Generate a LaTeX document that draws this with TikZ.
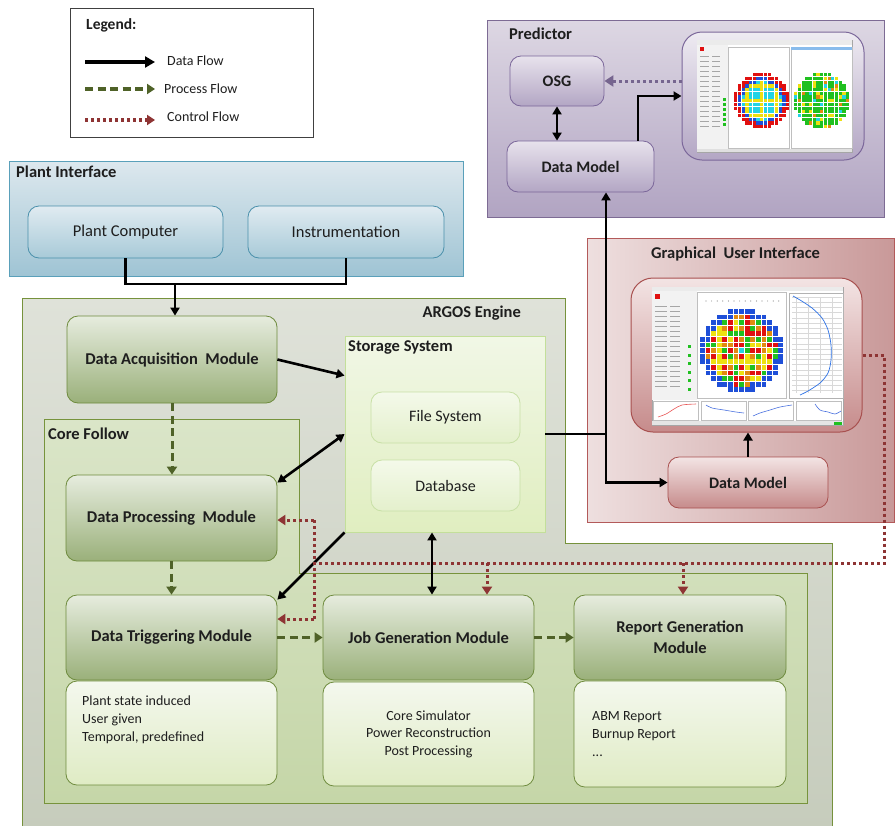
\documentclass[tikz,border=0pt]{standalone}
\usepackage{fontspec}
\setmainfont{Carlito}
\usetikzlibrary{arrows.meta}

\definecolor{txt}{HTML}{1E1E1E}
\definecolor{piB}{HTML}{5AA0BA}\definecolor{piT}{HTML}{DDE8EE}\definecolor{piBot}{HTML}{9FC4D4}
\definecolor{pinB}{HTML}{4A90AB}\definecolor{pinT}{HTML}{E0EBF1}\definecolor{pinBot}{HTML}{A8CAD8}
\definecolor{prB}{HTML}{7D6B94}\definecolor{prT}{HTML}{DDD7E3}\definecolor{prBot}{HTML}{B1A4C2}
\definecolor{prnB}{HTML}{7B679A}\definecolor{prnT}{HTML}{E7E2EC}\definecolor{prnBot}{HTML}{B3A6C4}
\definecolor{guB}{HTML}{B35A5A}\definecolor{guL}{HTML}{EEDFDF}\definecolor{guR}{HTML}{C99999}
\definecolor{gunB}{HTML}{A8504F}\definecolor{gunT}{HTML}{F3E4E4}\definecolor{gunBot}{HTML}{C68B8B}
\definecolor{arB}{HTML}{76923C}\definecolor{arT}{HTML}{DFE2D9}\definecolor{arBot}{HTML}{C6CCBC}
\definecolor{cfB}{HTML}{77933C}\definecolor{cfT}{HTML}{DAE5C8}\definecolor{cfBot}{HTML}{C5D6A8}
\definecolor{moB}{HTML}{6E8B3D}\definecolor{moT}{HTML}{E6ECDE}\definecolor{moBot}{HTML}{9AB07A}
\definecolor{tbT}{HTML}{F4F8EE}\definecolor{tbBot}{HTML}{DFEBC4}
\definecolor{stB}{HTML}{C3DF9A}\definecolor{stT}{HTML}{F1F7E6}\definecolor{stBot}{HTML}{E0EEC0}
\definecolor{fsB}{HTML}{C8E0A6}\definecolor{fsT}{HTML}{F4F9EA}\definecolor{fsBot}{HTML}{E4F0CC}
\definecolor{procC}{HTML}{4F6228}
\definecolor{ctrlC}{HTML}{8E3434}
\definecolor{purC}{HTML}{76658F}
\definecolor{mapc0}{HTML}{E01010}
\definecolor{mapc1}{HTML}{1E4FD8}
\definecolor{mapc2}{HTML}{22D3E6}
\definecolor{mapc3}{HTML}{EDE010}
\definecolor{mapc4}{HTML}{20C020}
\definecolor{mapc5}{HTML}{E08A10}
\definecolor{mapc6}{HTML}{3A8FE0}

\newcommand\coremap[4]{%
 \foreach \i in {0,...,14}{%
  \foreach \j in {0,...,14}{%
   \pgfmathsetmacro\rr{sqrt((\i-7)*(\i-7)+(\j-7)*(\j-7))}%
   \pgfmathtruncatemacro\inside{\rr<7.3 ? 1 : 0}%
   \ifnum\inside=1
     \pgfmathtruncatemacro\hh{mod(\i*7+\j*11+\i*\j*5,13)}%
     \ifcase#4
       \pgfmathtruncatemacro\cc{\rr>6.1 ? 0 : (\rr>5.1 ? 1 : ((mod(\i,4)==3 || mod(\j,4)==3) ? 3 : 2))}%
     \or
       \pgfmathtruncatemacro\cc{\hh==0 ? 3 : (\hh==1 ? 2 : (\hh==2 ? 5 : (\hh==3 ? 3 : 4)))}%
     \or
       \pgfmathtruncatemacro\cc{(\i==7 && \j==7) ? 2 : (\rr>6.3 ? 1 : (\hh<4 ? 0 : (\hh<7 ? 5 : (\hh<10 ? 3 : 4))))}%
     \fi
     \fill[mapc\cc] ({#1+(\i-7.5)*#3},{#2+(\j-7.5)*#3}) rectangle ++({#3*0.86},{#3*0.86});
   \fi
  }}}

\begin{document}
\begin{tikzpicture}[x=1pt,y=-1pt,
  every node/.style={text=txt},
  box/.style={rounded corners=11pt, line width=0.8pt, inner sep=2pt, align=center},
  modbox/.style={box, draw=moB, top color=moT, bottom color=moBot, font=\bfseries\fontsize{16.5}{21}\selectfont},
  txtbox/.style={box, draw=moB, top color=tbT, bottom color=tbBot, font=\fontsize{14}{17.5}\selectfont},
  pibox/.style={box, draw=pinB, top color=pinT, bottom color=pinBot, font=\fontsize{16.5}{20}\selectfont},
  prbox/.style={box, draw=prnB, top color=prnT, bottom color=prnBot, font=\bfseries\fontsize{16}{20}\selectfont},
  gubox/.style={box, draw=gunB, top color=gunT, bottom color=gunBot, font=\bfseries\fontsize{16}{20}\selectfont},
  fsbox/.style={box, draw=fsB, top color=fsT, bottom color=fsBot, font=\fontsize{16}{20}\selectfont},
  title/.style={font=\bfseries\fontsize{16.5}{20}\selectfont, inner sep=0pt},
  legtxt/.style={font=\fontsize{14}{16}\selectfont, anchor=west, inner sep=0pt},
  data/.style={line width=2.6pt, black},
  dataarrow/.style={data, -{Triangle[length=8pt,width=9pt]}},
  dbl/.style={data, {Triangle[length=8pt,width=9pt]}-{Triangle[length=8pt,width=9pt]}},
  proc/.style={line width=3pt, procC, dash pattern=on 8pt off 4.5pt, -{Triangle[length=8pt,width=10pt]}},
  ctrl/.style={line width=3pt, ctrlC, dash pattern=on 3pt off 3pt},
  ctrlarrow/.style={ctrl, -{Triangle[length=8pt,width=10pt]}},
  purarrow/.style={line width=3pt, purC, dash pattern=on 3pt off 3pt, -{Triangle[length=9pt,width=11pt]}}
]
\useasboundingbox[fill=white] (0,0) rectangle (896,825);

% ---------------- Legend ----------------
\node[draw=black!75, line width=0.9pt, fill=white, minimum width=243pt, minimum height=129pt, inner sep=0pt] (legend) at (191.5,72.5) {};
\node[title, anchor=west, font=\bfseries\fontsize{15.5}{18}\selectfont] (legtitle) at (86,25) {Legend:};
\coordinate (la1) at (85,62); \coordinate (lb1) at (155,62);
\coordinate (la2) at (85,89); \coordinate (lb2) at (155,89);
\coordinate (la3) at (85,120); \coordinate (lb3) at (155,120);
\draw[line width=3.5pt, -{Triangle[length=10pt,width=11pt]}] (la1) -- (lb1);
\draw[proc, line width=3.5pt] (la2) -- (lb2);
\draw[ctrlarrow, line width=3.5pt] (la3) -- (lb3);
\node[legtxt] (lt1) at (167,61) {Data Flow};
\node[legtxt] (lt2) at (164,89) {Process Flow};
\node[legtxt] (lt3) at (167,117) {Control Flow};

% ---------------- Plant Interface ----------------
\node[draw=piB, line width=0.9pt, top color=piT, bottom color=piBot, minimum width=454pt, minimum height=115pt, inner sep=0pt] (plant) at (236,218.5) {};
\node[title, anchor=west] (planttitle) at (16,172) {Plant Interface};
\node[pibox, minimum width=195pt, minimum height=52pt] (pc) at (125.5,232) {Plant Computer};
\node[pibox, minimum width=196pt, minimum height=52pt] (instr) at (346,232) {Instrumentation};

% ---------------- Predictor ----------------
\node[draw=prB, line width=0.9pt, top color=prT, bottom color=prBot, minimum width=397pt, minimum height=197pt, inner sep=0pt] (pred) at (685.5,118.5) {};
\node[title, anchor=west] (predtitle) at (509,34) {Predictor};
\node[prbox, minimum width=94pt, minimum height=50pt] (osg) at (557,81) {OSG};
\node[prbox, minimum width=147pt, minimum height=51pt] (pdm) at (580.5,166.5) {Data Model};
\node[draw=prnB, line width=1pt, rounded corners=20pt, top color=prnT!70!white, bottom color=prnBot, minimum width=182pt, minimum height=128pt, inner sep=0pt] (ppanel) at (773,96) {};
% predictor screenshot
\fill[white, draw=black!35, line width=0.4pt] (697,40) rectangle (852,152);
\fill[black!8] (697,40) rectangle (852,45);
\fill[black!5] (697,45) rectangle (728,149);
\fill[black!12] (697,149) rectangle (852,152);
\draw[black!25, line width=0.4pt] (728,47) rectangle (789,148) (791,47) rectangle (852,148);
\fill[mapc6!60] (791,47) rectangle (852,50);
\fill[mapc0] (700,47) rectangle (704,51);
\foreach \k in {0,...,14}{\draw[black!35, line width=0.7pt] (700,{56+\k*5}) -- ++(9,0) (712,{56+\k*5}) -- ++(8,0);}
\foreach \k in {0,...,5}{\fill[mapc4] (723,{98+\k*5}) rectangle ++(2.5,2.5);}
\coremap{762}{101}{3.7}{0}
\coremap{822}{101}{3.7}{1}

% ---------------- GUI ----------------
\node[draw=guB, line width=0.9pt, left color=guL, right color=guR, minimum width=307pt, minimum height=284pt, inner sep=0pt] (gui) at (740.5,380) {};
\node[title, anchor=west] (guititle) at (651,254) {Graphical\ \ User Interface};
\node[draw=gunB, line width=1pt, rounded corners=22pt, top color=gunT, bottom color=gunBot, minimum width=231pt, minimum height=154pt, inner sep=0pt] (gpanel) at (746.5,355) {};
\node[gubox, minimum width=160pt, minimum height=51pt] (gdm) at (748,482.5) {Data Model};
% GUI screenshot
\fill[white, draw=black!35, line width=0.4pt] (652,287) rectangle (843,425);
\fill[black!8] (652,287) rectangle (843,291);
\fill[black!5] (652,291) rectangle (697,400);
\fill[black!10] (652,421) rectangle (843,425);
\fill[mapc4] (834,421.5) rectangle (842,424.5);
\fill[mapc0] (655,294) rectangle (660,299);
\foreach \k in {0,...,16}{\draw[black!35, line width=0.7pt] (655,{306+\k*5}) -- ++(12,0) (670,{306+\k*5}) -- ++(10,0);}
\foreach \k in {0,...,5}{\fill[mapc4] (688,{345+\k*8.5}) rectangle ++(3,3);}
\draw[black!25, line width=0.4pt] (697,292) rectangle (786,398);
\foreach \k in {0,...,13}{\fill[black!45] ({706+\k*5.6},301) circle (0.6pt);}
\coremap{742}{351}{5.6}{2}
\draw[black!30, line width=0.4pt] (789,293) rectangle (843,398);
\foreach \k in {0,...,18}{\draw[black!15, line width=0.3pt] (792,{297+\k*5.2}) -- (842,{297+\k*5.2});}
\foreach \k in {0,...,3}{\draw[black!15, line width=0.3pt] ({796+\k*12},297) -- ({796+\k*12},393);}
\draw[mapc6!80!blue, line width=0.7pt] plot[smooth] coordinates {(793,296) (800,300) (812,308) (822,318) (828,330) (831,345) (831,360) (828,373) (820,383) (808,391) (800,395)};
\foreach \x in {653, 701, 748, 796}{\draw[black!25, line width=0.3pt] (\x,401) rectangle ++(45,19);}
\draw[mapc0!70, line width=0.6pt] plot[smooth] coordinates {(658,417) (666,414) (674,409) (682,405) (696,404)};
\draw[mapc1!80, line width=0.6pt] plot[smooth] coordinates {(706,405) (712,408) (724,410) (736,412) (744,413)};
\draw[mapc1!80, line width=0.6pt] plot[smooth] coordinates {(753,416) (760,413) (770,410) (780,407) (792,405)};
\draw[mapc1!80, line width=0.6pt] plot[smooth] coordinates {(815,404) (820,410) (828,412) (835,414) (841,411)};

% ---------------- ARGOS Engine ----------------
\shadedraw[draw=arB, line width=0.9pt, top color=arT, bottom color=arBot] (22,298) -- (565,298) -- (565,543) -- (832,543) -- (832,830) -- (22,830) -- cycle;
\node[title, anchor=east] (argostitle) at (521,313) {ARGOS Engine};

% Core Follow
\shadedraw[draw=cfB, line width=0.9pt, top color=cfT, bottom color=cfBot] (44,419) -- (299,419) -- (299,573) -- (807,573) -- (807,803) -- (44,803) -- cycle;
\node[title, anchor=west] (cftitle) at (48,434) {Core Follow};

% Storage
\node[draw=stB, line width=0.9pt, top color=stT, bottom color=stBot, minimum width=200pt, minimum height=196pt, inner sep=0pt] (storage) at (445,434) {};
\node[title, anchor=west] (sttitle) at (348,347) {Storage System};
\node[fsbox, minimum width=149pt, minimum height=51pt] (fs) at (445.5,417.5) {File System};
\node[fsbox, minimum width=149pt, minimum height=51pt] (db) at (445.5,485.5) {Database};

% Modules
\node[modbox, minimum width=210pt, minimum height=87pt] (daq) at (172,359.5) {Data Acquisition\ \ Module};
\node[modbox, minimum width=211pt, minimum height=86pt] (dpm) at (171.5,518) {Data Processing\ \ Module};
\node[modbox, minimum width=211pt, minimum height=85pt] (dtm) at (171.5,637.5) {Data Triggering Module};
\node[txtbox, minimum width=211pt, minimum height=104pt] (dtt) at (171.5,733) {};
\node[font=\fontsize{14}{18}\selectfont, align=left, anchor=north west, inner sep=0pt] (dttext) at (82,696) {Plant state induced\\User given\\Temporal, predefined};
\node[modbox, minimum width=211pt, minimum height=85pt] (jgm) at (428.5,637.5) {Job Generation Module};
\node[txtbox, minimum width=211pt, minimum height=104pt] (jgt) at (428.5,734) {Core Simulator\\Power Reconstruction\\Post Processing};
\node[modbox, minimum width=212pt, minimum height=85pt] (rgm) at (680,637.5) {Report Generation\\Module};
\node[txtbox, minimum width=212pt, minimum height=106pt] (rgt) at (680,734) {};
\node[font=\fontsize{14}{18}\selectfont, align=left, anchor=north west, inner sep=0pt] (rgtext) at (592,711) {ABM Report\\Burnup Report\\...};

% ---------------- Connectors ----------------
\coordinate (pj) at (175,284);
\draw[data] (pc.south) |- (pj) -| (instr.south);
\draw[dataarrow] (pj) -- (pj |- daq.north);

\draw[dbl] (osg.south) -- (osg.south |- pdm.north);
\draw[purarrow] (osg.east -| ppanel.west) -- (osg.east);
\draw[dataarrow] ([xshift=57.5pt]pdm.north) |- (ppanel.west);

\draw[dataarrow] (gdm.north) -- (gdm.north |- gpanel.south);
\coordinate (sj) at (606,434);
\draw[data] (storage.east) -- (sj);
\draw[dataarrow] (sj) -- (sj |- pdm.south);
\draw[dataarrow] (sj) |- (gdm.west);

\draw[dataarrow] (daq.east) -- ([yshift=-40pt]storage.north west);
\draw[dbl] (storage.west) -- ([yshift=-8pt]dpm.north east);
\draw[dataarrow] (storage.south west) -- ([yshift=-5pt]dtm.north east);
\draw[dbl] ([xshift=-13pt]storage.south) -- ([xshift=3.5pt]jgm.north);

\draw[proc] (daq.south) -- (daq.south |- dpm.north);
\draw[proc] (dpm.south) -- (dpm.south |- dtm.north);
\draw[proc] (dtm.east) -- (jgm.west);
\draw[proc] (jgm.east) -- (rgm.west);

\coordinate (c1) at (884,355);
\coordinate (c2) at (884,563);
\coordinate (c3) at (314,563);
\coordinate (c4) at (314,520);
\coordinate (c5) at (314,619);
\coordinate (b1) at (487,563);
\coordinate (b2) at (683,563);
\draw[ctrl] (gpanel.east) -- (c1) -- (c2) -- (c3);
\draw[ctrl] (c4) -- (c5);
\draw[ctrlarrow] (c4) -- (c4 -| dpm.east);
\draw[ctrlarrow] (c5) -- (c5 -| dtm.east);
\draw[ctrlarrow] (b1) -- (b1 |- jgm.north);
\draw[ctrlarrow] (b2) -- (b2 |- rgm.north);
\end{tikzpicture}
\end{document}
